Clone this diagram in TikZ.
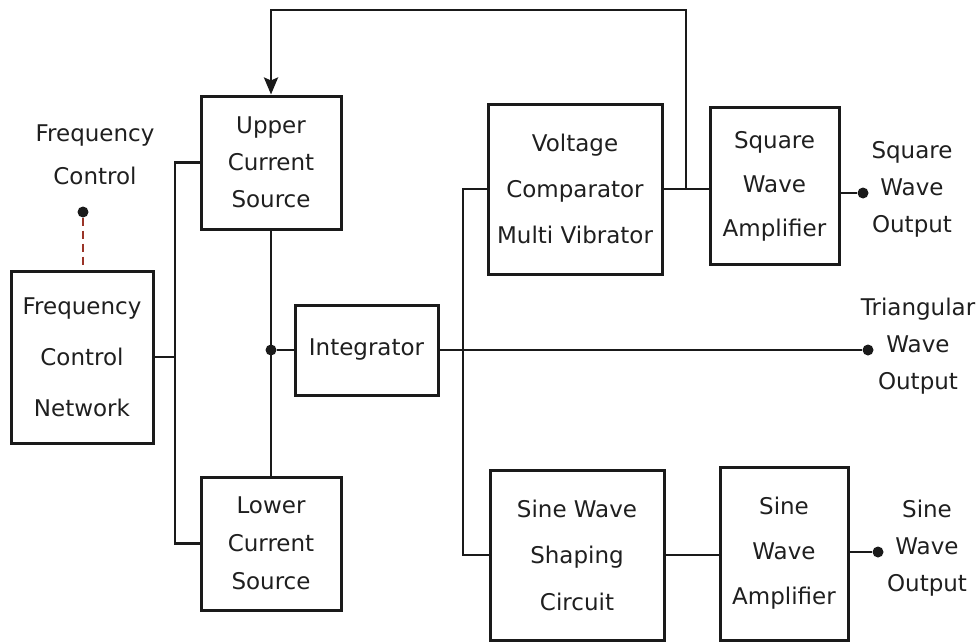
\documentclass[tikz,border=0pt]{standalone}
\usepackage{fontspec}
\setmainfont{DejaVu Sans}
\usepackage{xcolor}
\usetikzlibrary{arrows.meta,positioning,calc}

\definecolor{linegray}{HTML}{1A1A1A}
\definecolor{txtgray}{HTML}{1F1F1F}
\definecolor{ctrlred}{HTML}{9A3428}

\begin{document}
\begin{tikzpicture}[x=1pt, y=-1pt,
  every node/.style={font=\fontsize{23}{37}\selectfont, text=txtgray},
  blk/.style={draw=linegray, line width=3pt, align=center, inner sep=0pt},
  lbl/.style={align=center, inner sep=0pt},
  conn/.style={draw=linegray, line width=2.8pt},
  pin/.style={circle, fill=linegray, inner sep=0pt, minimum size=11pt}]
  \useasboundingbox (0,0) rectangle (979,643);

  % Blocks
  \node[blk, minimum width=142pt, minimum height=172pt,
    font=\fontsize{23}{51}\selectfont] (fcn) at (82,357) {Frequency\\Control\\Network};
  \node[blk, minimum width=140pt, minimum height=133pt] (ucs) at (271,162.5) {Upper\\Current\\Source};
  \node[blk, minimum width=140pt, minimum height=133pt,
    font=\fontsize{23}{38}\selectfont] (lcs) at (271,543.5) {Lower\\Current\\Source};
  \node[blk, minimum width=143pt, minimum height=90pt] (integ) at (366.5,350) {Integrator};
  \node[blk, minimum width=174pt, minimum height=170pt,
    font=\fontsize{23}{46}\selectfont] (vcm) at (575,189) {Voltage\\Comparator\\Multi Vibrator};
  \node[blk, minimum width=129pt, minimum height=157pt,
    font=\fontsize{23}{44}\selectfont] (swa) at (774.5,186) {Square\\Wave\\Amplifier};
  \node[blk, minimum width=174pt, minimum height=170pt,
    font=\fontsize{23}{46.5}\selectfont] (swsc) at (577,555) {Sine Wave\\Shaping\\Circuit};
  \node[blk, minimum width=128pt, minimum height=173pt,
    font=\fontsize{23}{45}\selectfont] (sia) at (784,553.5) {Sine\\Wave\\Amplifier};

  % Frequency control input
  \node[lbl, font=\fontsize{23}{43}\selectfont] (fcl) at (95,154.5) {Frequency\\Control};
  \node[pin] (fcdot) at (83,212) {};
  \draw[ctrlred, dash pattern=on 8pt off 5pt, line width=2.6pt] (fcdot) -- (fcdot |- fcn.north);

  % Outputs
  \node[pin] (sqo) at (863,193) {};
  \node[lbl] (sqol) at (912,189) {Square\\Wave\\Output};
  \node[pin] (tro) at (868,350) {};
  \node[lbl] (trol) at (918,346) {Triangular\\Wave\\Output};
  \node[pin] (sio) at (878,552) {};
  \node[lbl] (siol) at (927,548) {Sine\\Wave\\Output};

  % Current source bus
  \coordinate (fbus) at (175,0);
  \draw[conn] (fcn.east) -- (fcn.east -| fbus);
  \draw[conn] (ucs.west) -- (ucs.west -| fbus) -- (lcs.west -| fbus) -- (lcs.west);
  \draw[conn] (ucs.south) -- (lcs.north);
  \node[pin] (jn) at (ucs.south |- integ.west) {};
  \draw[conn] (jn) -- (integ.west);

  % Integrator to comparator and shaper
  \draw[conn] (integ.east) -- (tro);
  \coordinate (sbus) at (463,0);
  \draw[conn] (vcm.west) -- (vcm.west -| sbus) -- (swsc.west -| sbus) -- (swsc.west);
  \draw[conn] (vcm.east) -- (vcm.east -| swa.west);
  \draw[conn] (swa.east |- sqo) -- (sqo);
  \draw[conn] (swsc.east) -- (swsc.east -| sia.west);
  \draw[conn] (sia.east |- sio) -- (sio);

  % Feedback to upper source
  \coordinate (fbk) at ($(vcm.east)!0.5!(vcm.east -| swa.west)$);
  \draw[conn, -{Stealth[length=17pt, width=14pt, inset=3pt]}] (fbk) -- ++(0,-179) -| (ucs.north);
\end{tikzpicture}
\end{document}
